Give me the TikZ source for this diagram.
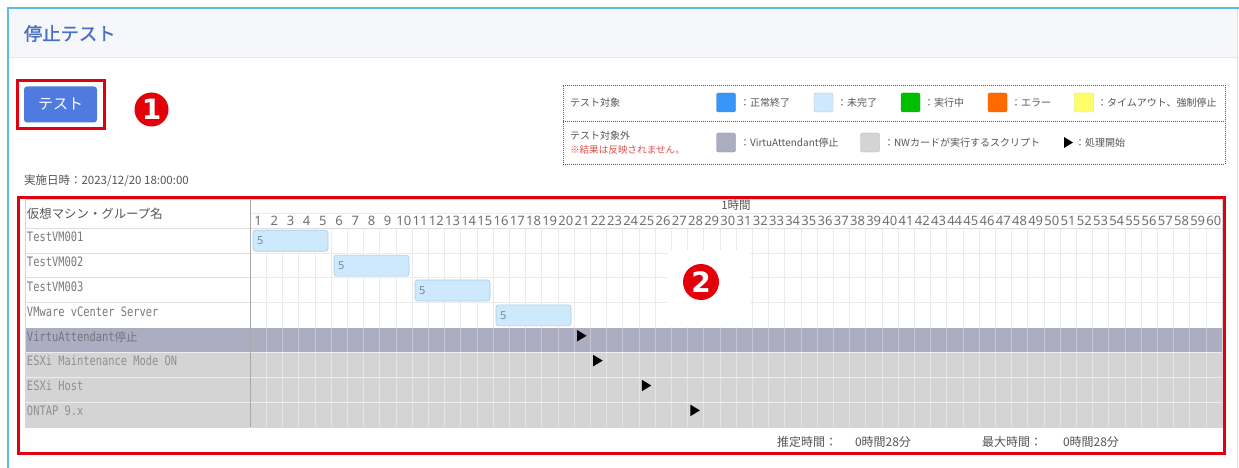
\documentclass[tikz,border=0pt]{standalone}
\usepackage{fontspec}
\setmainfont{Noto Sans CJK JP}
\newfontfamily\titlef[FakeBold=1.2]{Noto Sans CJK JP}
\newfontfamily\monof[FakeStretch=0.8]{DejaVu Sans Mono}
\newfontfamily\numf{Noto Sans}
\newfontfamily\badgef{DejaVu Sans}
\newcommand\fsz[1]{\fontsize{#1}{#1}\selectfont}

\definecolor{panelblue}{HTML}{5BBCE4}
\definecolor{headbg}{HTML}{F5F7FA}
\definecolor{headline}{HTML}{E4E8EE}
\definecolor{titleblue}{HTML}{4A6EC2}
\definecolor{btnblue}{HTML}{4F7BE0}
\definecolor{markred}{HTML}{E3000B}
\definecolor{framered}{HTML}{E00010}
\definecolor{txtgray}{HTML}{555555}
\definecolor{numgray}{HTML}{707070}
\definecolor{rowc}{HTML}{7A7A7A}
\definecolor{vatxt}{HTML}{75757F}
\definecolor{nwtxt}{HTML}{909090}
\definecolor{gridc}{HTML}{EBEBEB}
\definecolor{gridva}{HTML}{C6C6D4}
\definecolor{gridnw}{HTML}{E4E4E4}
\definecolor{namegrid}{HTML}{DDDDDD}
\definecolor{sepc}{HTML}{A8A8A8}
\definecolor{tableb}{HTML}{D6D6D6}
\definecolor{legc}{HTML}{5A5A5A}
\definecolor{vaband}{HTML}{ADADC1}
\definecolor{nwband}{HTML}{D4D4D4}
\definecolor{barfill}{HTML}{CDE9FB}
\definecolor{barline}{HTML}{A9CFEA}
\definecolor{barnumc}{HTML}{6A8BA8}
\definecolor{okblue}{HTML}{3896F8}
\definecolor{runok}{HTML}{00BF00}
\definecolor{errorg}{HTML}{FF6A00}
\definecolor{toyel}{HTML}{FFFF6A}
\definecolor{noterd}{HTML}{E0504A}

\tikzset{
  every node/.style={outer sep=0pt},
  txt/.style={inner sep=0pt, anchor=west, text=txtgray},
  leg/.style={txt, font=\fsz{10}},
  swatch/.style={inner sep=0pt, minimum width=19pt, minimum height=19pt, rounded corners=2pt, draw=#1!85!black, fill=#1, line width=0.4pt},
  rowlbl/.style={inner sep=0pt, anchor=base west, font=\monof\fsz{13}},
  numlbl/.style={inner sep=0pt, font=\numf\fsz{13}, text=numgray},
  bar/.style={draw=barline, fill=barfill, rounded corners=2.5pt, minimum width=75pt, minimum height=21pt, anchor=north west, inner sep=0pt, line width=0.6pt},
  barnum/.style={inner sep=0pt, anchor=west, font=\numf\fsz{11}, text=barnumc},
  badge/.style={circle, fill=markred, inner sep=0pt, text=white, font=\badgef\bfseries\fsz{28}},
  gridw/.style={draw=gridc, line width=0.6pt},
}

\begin{document}
\begin{tikzpicture}[x=1pt,y=-1pt]
\useasboundingbox (0,0) rectangle (1239,468);
\fill[white] (0,0) rectangle (1239,468);
% panel
\fill[headbg] (8,8) rectangle (1237,57);
\draw[headline, line width=0.8pt] (8,57) -- (1237,57);
\draw[panelblue!35, line width=1pt] (1237,8) -- (1237,468);
\draw[panelblue, line width=2pt] (8,468) -- (8,8) -- (1239,8);

\node[txt, text=titleblue, font=\titlef\fsz{18.3}] (title) at (24,33.5) {停止テスト};

% button
\node[fill=btnblue, rounded corners=3pt, minimum width=73pt, minimum height=36pt, inner sep=0pt, text=white, font=\fsz{15}] (btn) at (60.5,104.5) {テスト};
\node[draw=framered, line width=3pt, minimum width=87pt, minimum height=48pt, inner sep=0pt] (btnframe) at (60.5,104.5) {};
\node[badge, minimum size=34pt] (badge1) at (151.5,109.5) {1};

\node[txt, font=\fsz{11.5}] (date) at (24,181) {実施日時：2023/12/20 18:00:00};

% legend
\node[draw=legc, line width=0.8pt, dash pattern=on 1pt off 1pt, minimum width=662pt, minimum height=79pt, inner sep=0pt, anchor=north west] (legend) at (563,85) {};
\draw[legc, line width=0.8pt, dash pattern=on 1pt off 1pt] (563,121.5) -- (1225,121.5);

\node[leg] (lg1) at (570,102.5) {テスト対象};
\node[swatch=okblue] (sw1) at (726,102.5) {};
\node[leg] (lt1) at (740,102.5) {：正常終了};
\node[swatch=barfill] (sw2) at (823.5,102.5) {};
\node[leg] (lt2) at (837,102.5) {：未完了};
\node[swatch=runok] (sw3) at (910.5,102.5) {};
\node[leg] (lt3) at (924,102.5) {：実行中};
\node[swatch=errorg] (sw4) at (997.5,102.5) {};
\node[leg] (lt4) at (1011,102.5) {：エラー};
\node[swatch=toyel] (sw5) at (1084,102.5) {};
\node[leg] (lt5) at (1097,102.5) {：タイムアウト、強制停止};

\node[leg] (lg2) at (570,136) {テスト対象外};
\node[leg, text=noterd, font=\fsz{9.6}] (lg3) at (570,149.5) {※結果は反映されません。};
\node[swatch=vaband] (sw6) at (726,142.5) {};
\node[leg] (lt6) at (740,142.5) {：VirtuAttendant停止};
\node[swatch=nwband] (sw7) at (870,142.5) {};
\node[leg] (lt7) at (884,142.5) {：NWカードが実行するスクリプト};
\fill[black] (1064,137) -- (1073,142.5) -- (1064,148) -- cycle;
\node[leg] (lt8) at (1075,142.5) {：処理開始};

% chart table
\fill[vaband] (25,327.5) rectangle (1222,352.375);
\fill[nwband] (25,352.375) rectangle (1222,427);
\foreach \k in {1,...,59} {
  \draw[gridw] ({250+\k*16.2},228) -- ({250+\k*16.2},327.5);
  \draw[gridva, line width=0.6pt] ({250+\k*16.2},327.5) -- ({250+\k*16.2},352.375);
  \draw[gridnw, line width=0.6pt] ({250+\k*16.2},352.375) -- ({250+\k*16.2},427);
}
\foreach \y in {252.875,277.75,302.625} {
  \draw[gridw] (250,\y) -- (1222,\y);
  \draw[namegrid, line width=0.6pt] (25,\y) -- (250,\y);
}
\draw[gridw] (250,213) -- (1222,213);
\draw[namegrid, line width=0.6pt] (25,228) -- (1222,228);
\foreach \y in {352.375,377.25,402.125}
  \draw[white, opacity=0.6, line width=0.8pt] (25,\y) -- (1222,\y);
\draw[sepc, line width=0.8pt] (250,199) -- (250,427);
\draw[tableb, line width=0.6pt] (25,199) rectangle (1222,427);

% header
\node[txt, font=\fsz{12.4}] (namehdr) at (27,214) {仮想マシン・グループ名};
\node[inner sep=0pt, font=\fsz{11.5}, text=txtgray] (hour) at (736,205.5) {1時間};
\foreach \k in {1,...,60}
  \node[numlbl] (num\k) at ({250+(\k-0.5)*16.2},221) {\k};

% row labels
\node[rowlbl, text=rowc] (rl1) at (27,241.5) {TestVM001};
\node[rowlbl, text=rowc] (rl2) at (27,266.4) {TestVM002};
\node[rowlbl, text=rowc] (rl3) at (27,291.25) {TestVM003};
\node[rowlbl, text=rowc] (rl4) at (27,316.1) {VMware vCenter Server};
\node[rowlbl, text=vatxt] (rl5) at (27,341) {VirtuAttendant{\rmfamily\fsz{11.5}停止}};
\node[rowlbl, text=nwtxt] (rl6) at (27,365.9) {ESXi Maintenance Mode ON};
\node[rowlbl, text=nwtxt] (rl7) at (27,390.75) {ESXi Host};
\node[rowlbl, text=nwtxt] (rl8) at (27,415.6) {ONTAP 9.x};

% badge 2 with its white ground
\fill[white] (668,250) rectangle (750,326.5);
\node[badge, minimum size=36pt] (badge2) at (701,282) {2};

% bars
\foreach \i in {1,...,4} {
  \node[bar] (bar\i) at ({250+(5*\i-5)*16.2+3},{228+(\i-1)*24.875+2.2}) {};
  \node[barnum] (bnum\i) at ([xshift=4pt]bar\i.west) {5};
}

% start markers
\foreach \c/\r in {21/5,22/6,25/7,28/8} {
  \pgfmathsetmacro\tx{250+(\c-1)*16.2+3}
  \pgfmathsetmacro\ty{228+(\r-1)*24.875}
  \fill[black] (\tx,\ty+2.5) -- (\tx+9.5,\ty+8.25) -- (\tx,\ty+14) -- cycle;
}

% totals
\node[txt, font=\fsz{12}] (est) at (777,442) {推定時間：};
\node[txt, font=\fsz{12}] (estv) at (855,442) {0時間28分};
\node[txt, font=\fsz{12}] (maxl) at (982,442) {最大時間：};
\node[txt, font=\fsz{12}] (maxv) at (1063,442) {0時間28分};

% red frame
\node[draw=framered, line width=3pt, minimum width=1205.5pt, minimum height=256pt, inner sep=0pt, anchor=north west] (chartframe) at (18.5,197) {};
\end{tikzpicture}
\end{document}
